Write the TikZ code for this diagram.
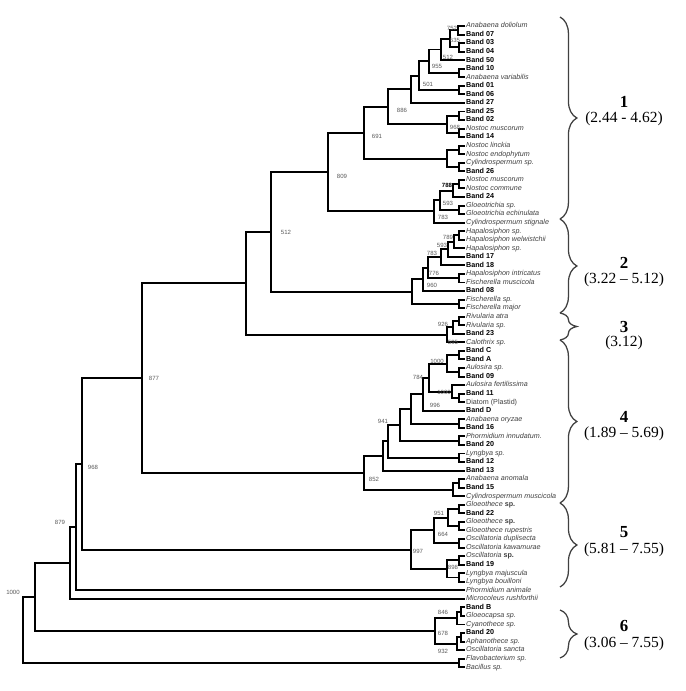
\documentclass[tikz,border=0pt]{standalone}
\usepackage{fontspec}
\setmainfont{Liberation Serif}
\newfontfamily\treefont{Liberation Sans}
\usetikzlibrary{decorations.pathreplacing}
\definecolor{taxgray}{gray}{0.25}
\definecolor{bootgray}{gray}{0.35}
\newcommand{\leafsize}{\treefont\fontsize{5.1}{6}\selectfont}
\newcommand{\bootsize}{\treefont\fontsize{4.3}{5}\selectfont}

\begin{document}
\begin{tikzpicture}[x=0.025cm, y=-0.025cm,
    branch/.style={line width=1.4pt, line join=miter},
    leaf/.style={anchor=west, inner sep=0.6pt, text height=3.6pt, text depth=1pt, font=\leafsize},
    band/.style={leaf, font=\leafsize\bfseries},
    taxon/.style={leaf, text=taxgray, font=\leafsize\itshape},
    uptaxon/.style={leaf, text=taxgray},
    boot/.style={inner sep=0pt, text=bootgray, font=\bootsize},
    bootbold/.style={boot, text=black, font=\bootsize\bfseries},
    bracket/.style={decorate, decoration={brace, amplitude=12pt}, line width=0.9pt, draw=black!75},
    clusterno/.style={font=\fontsize{12}{14}\selectfont\bfseries},
    clusterval/.style={font=\fontsize{11}{13}\selectfont}]

    \useasboundingbox (0,0) rectangle (685,691);

    % --- Leaves, from top to bottom ---
    \node[taxon] (l01) at (465, 26.00) {Anabaena doliolum};
    \node[band] (l02) at (465, 34.55) {Band 07};
    \node[band] (l03) at (465, 43.10) {Band 03};
    \node[band] (l04) at (465, 51.65) {Band 04};
    \node[band] (l05) at (465, 60.20) {Band 50};
    \node[band] (l06) at (465, 68.75) {Band 10};
    \node[taxon] (l07) at (465, 77.30) {Anabaena variabilis};
    \node[band] (l08) at (465, 85.85) {Band 01};
    \node[band] (l09) at (465, 94.40) {Band 06};
    \node[band] (l10) at (465, 102.95) {Band 27};
    \node[band] (l11) at (465, 111.50) {Band 25};
    \node[band] (l12) at (465, 120.05) {Band 02};
    \node[taxon] (l13) at (465, 128.60) {Nostoc muscorum};
    \node[band] (l14) at (465, 137.15) {Band 14};
    \node[taxon] (l15) at (465, 145.70) {Nostoc linckia};
    \node[taxon] (l16) at (465, 154.25) {Nostoc endophytum};
    \node[taxon] (l17) at (465, 162.80) {Cylindrospermum sp.};
    \node[band] (l18) at (465, 171.35) {Band 26};
    \node[taxon] (l19) at (465, 179.90) {Nostoc muscorum};
    \node[taxon] (l20) at (465, 188.45) {Nostoc commune};
    \node[band] (l21) at (465, 197.00) {Band 24};
    \node[taxon] (l22) at (465, 205.55) {Gloeotrichia sp.};
    \node[taxon] (l23) at (465, 214.10) {Gloeotrichia echinulata};
    \node[taxon] (l24) at (465, 222.65) {Cylindrospermum stignale};
    \node[taxon] (l25) at (465, 231.20) {Hapalosiphon sp.};
    \node[taxon] (l26) at (465, 239.75) {Hapalosiphon welwistchii};
    \node[taxon] (l27) at (465, 248.30) {Hapalosiphon sp.};
    \node[band] (l28) at (465, 256.85) {Band 17};
    \node[band] (l29) at (465, 265.40) {Band 18};
    \node[taxon] (l30) at (465, 273.95) {Hapalosiphon intricatus};
    \node[taxon] (l31) at (465, 282.50) {Fischerella muscicola};
    \node[band] (l32) at (465, 291.05) {Band 08};
    \node[taxon] (l33) at (465, 299.60) {Fischerella sp.};
    \node[taxon] (l34) at (465, 308.15) {Fischerella major};
    \node[taxon] (l35) at (465, 316.70) {Rivularia atra};
    \node[taxon] (l36) at (465, 325.25) {Rivularia sp.};
    \node[band] (l37) at (465, 333.80) {Band 23};
    \node[taxon] (l38) at (465, 342.35) {Calothrix sp.};
    \node[band] (l39) at (465, 350.90) {Band C};
    \node[band] (l40) at (465, 359.45) {Band A};
    \node[taxon] (l41) at (465, 368.00) {Aulosira sp.};
    \node[band] (l42) at (465, 376.55) {Band 09};
    \node[taxon] (l43) at (465, 385.10) {Aulosira fertilissima};
    \node[band] (l44) at (465, 393.65) {Band 11};
    \node[uptaxon] (l45) at (465, 402.20) {Diatom (Plastid)};
    \node[band] (l46) at (465, 410.75) {Band D};
    \node[taxon] (l47) at (465, 419.30) {Anabaena oryzae};
    \node[band] (l48) at (465, 427.85) {Band 16};
    \node[taxon] (l49) at (465, 436.40) {Phormidium innudatum.};
    \node[band] (l50) at (465, 444.95) {Band 20};
    \node[taxon] (l51) at (465, 453.50) {Lyngbya sp.};
    \node[band] (l52) at (465, 462.05) {Band 12};
    \node[band] (l53) at (465, 470.60) {Band 13};
    \node[taxon] (l54) at (465, 479.15) {Anabaena anomala};
    \node[band] (l55) at (465, 487.70) {Band 15};
    \node[taxon] (l56) at (465, 496.25) {Cylindrospermum muscicola};
    \node[taxon] (l57) at (465, 504.80) {Gloeothece {\upshape\bfseries sp.}};
    \node[band] (l58) at (465, 513.35) {Band 22};
    \node[taxon] (l59) at (465, 521.90) {Gloeothece {\upshape\bfseries sp.}};
    \node[taxon] (l60) at (465, 530.45) {Gloeothece rupestris};
    \node[taxon] (l61) at (465, 539.00) {Oscillatoria duplisecta};
    \node[taxon] (l62) at (465, 547.55) {Oscillatoria kawamurae};
    \node[taxon] (l63) at (465, 556.10) {Oscillatoria {\upshape\bfseries sp.}};
    \node[band] (l64) at (465, 564.65) {Band 19};
    \node[taxon] (l65) at (465, 573.20) {Lyngbya majuscula};
    \node[taxon] (l66) at (465, 581.75) {Lyngbya bouilloni};
    \node[taxon] (l67) at (465, 590.30) {Phormidium animale};
    \node[taxon] (l68) at (465, 598.85) {Microcoleus rushforthii};
    \node[band] (l69) at (465, 607.40) {Band B};
    \node[taxon] (l70) at (465, 615.95) {Gloeocapsa sp.};
    \node[taxon] (l71) at (465, 624.50) {Cyanothece sp.};
    \node[band] (l72) at (465, 633.05) {Band 20};
    \node[taxon] (l73) at (465, 641.60) {Aphanothece sp.};
    \node[taxon] (l74) at (465, 650.15) {Oscillatoria sancta};
    \node[taxon] (l75) at (465, 658.70) {Flavobacterium sp.};
    \node[taxon] (l76) at (465, 667.25) {Bacillus sp.};

    % --- Cluster 1 ---
    \coordinate (a1) at (458, 30.28);
    \coordinate (a2) at (459, 47.38);
    \coordinate (a3) at (450, 38.83);
    \coordinate (a4) at (441, 49.51);
    \coordinate (a5) at (459, 73.03);
    \coordinate (a6) at (429, 61.27);
    \coordinate (a7) at (459, 90.13);
    \coordinate (a8) at (419, 75.70);
    \coordinate (a9) at (411, 89.33);
    \coordinate (a10) at (459, 115.78);
    \coordinate (a11) at (459, 132.88);
    \coordinate (a12) at (447, 124.33);
    \coordinate (a13) at (388, 106.83);
    \coordinate (a14) at (459, 149.98);
    \coordinate (a15) at (459, 167.08);
    \coordinate (a16) at (447, 158.53);
    \coordinate (a17) at (364, 132.68);
    \coordinate (a18) at (459, 184.18);
    \coordinate (a19) at (453, 190.59);
    \coordinate (a20) at (459, 209.83);
    \coordinate (a21) at (440, 200.21);
    \coordinate (a22) at (434, 211.43);
    \coordinate (a23) at (328, 172.06);
    \draw[branch] (l01.west) -| (a1) |- (l02.west);
    \draw[branch] (l03.west) -| (a2) |- (l04.west);
    \draw[branch] (a1) -| (a3) |- (a2);
    \draw[branch] (a3) -| (a4) |- (l05.west);
    \draw[branch] (l06.west) -| (a5) |- (l07.west);
    \draw[branch] (a4) -| (a6) |- (a5);
    \draw[branch] (l08.west) -| (a7) |- (l09.west);
    \draw[branch] (a6) -| (a8) |- (a7);
    \draw[branch] (a8) -| (a9) |- (l10.west);
    \draw[branch] (l11.west) -| (a10) |- (l12.west);
    \draw[branch] (l13.west) -| (a11) |- (l14.west);
    \draw[branch] (a10) -| (a12) |- (a11);
    \draw[branch] (a9) -| (a13) |- (a12);
    \draw[branch] (l15.west) -| (a14) |- (l16.west);
    \draw[branch] (l17.west) -| (a15) |- (l18.west);
    \draw[branch] (a14) -| (a16) |- (a15);
    \draw[branch] (a13) -| (a17) |- (a16);
    \draw[branch] (l19.west) -| (a18) |- (l20.west);
    \draw[branch] (a18) -| (a19) |- (l21.west);
    \draw[branch] (l22.west) -| (a20) |- (l23.west);
    \draw[branch] (a19) -| (a21) |- (a20);
    \draw[branch] (a21) -| (a22) |- (l24.west);
    \draw[branch] (a17) -| (a23) |- (a22);

    % --- Cluster 2 ---
    \coordinate (b1) at (459, 235.48);
    \coordinate (b2) at (454, 241.89);
    \coordinate (b3) at (448, 249.37);
    \coordinate (b4) at (441, 257.39);
    \coordinate (b5) at (459, 278.23);
    \coordinate (b6) at (428, 267.81);
    \coordinate (b7) at (423, 279.43);
    \coordinate (b8) at (459, 303.88);
    \coordinate (b9) at (412, 291.66);
    \draw[branch] (l25.west) -| (b1) |- (l26.west);
    \draw[branch] (b1) -| (b2) |- (l27.west);
    \draw[branch] (b2) -| (b3) |- (l28.west);
    \draw[branch] (b3) -| (b4) |- (l29.west);
    \draw[branch] (l30.west) -| (b5) |- (l31.west);
    \draw[branch] (b4) -| (b6) |- (b5);
    \draw[branch] (b6) -| (b7) |- (l32.west);
    \draw[branch] (l33.west) -| (b8) |- (l34.west);
    \draw[branch] (b7) -| (b9) |- (b8);

    % --- Cluster 3 ---
    \coordinate (c1) at (459, 320.98);
    \coordinate (c2) at (453, 327.39);
    \coordinate (c3) at (447, 334.87);
    \draw[branch] (l35.west) -| (c1) |- (l36.west);
    \draw[branch] (c1) -| (c2) |- (l37.west);
    \draw[branch] (c2) -| (c3) |- (l38.west);

    % --- Cluster 4 ---
    \coordinate (d1) at (459, 355.18);
    \coordinate (d2) at (459, 372.28);
    \coordinate (d3) at (447, 363.73);
    \coordinate (d4) at (459, 397.93);
    \coordinate (d5) at (452, 391.51);
    \coordinate (d6) at (429, 377.62);
    \coordinate (d7) at (423, 394.19);
    \coordinate (d8) at (459, 423.58);
    \coordinate (d9) at (411, 408.88);
    \coordinate (d10) at (459, 440.68);
    \coordinate (d11) at (400, 424.78);
    \coordinate (d12) at (459, 457.78);
    \coordinate (d13) at (388, 441.28);
    \coordinate (d14) at (383, 455.94);
    \coordinate (d15) at (459, 483.43);
    \coordinate (d16) at (453, 489.84);
    \coordinate (d17) at (364, 472.89);
    \draw[branch] (l39.west) -| (d1) |- (l40.west);
    \draw[branch] (l41.west) -| (d2) |- (l42.west);
    \draw[branch] (d1) -| (d3) |- (d2);
    \draw[branch] (l44.west) -| (d4) |- (l45.west);
    \draw[branch] (l43.west) -| (d5) |- (d4);
    \draw[branch] (d3) -| (d6) |- (d5);
    \draw[branch] (d6) -| (d7) |- (l46.west);
    \draw[branch] (l47.west) -| (d8) |- (l48.west);
    \draw[branch] (d7) -| (d9) |- (d8);
    \draw[branch] (l49.west) -| (d10) |- (l50.west);
    \draw[branch] (d9) -| (d11) |- (d10);
    \draw[branch] (l51.west) -| (d12) |- (l52.west);
    \draw[branch] (d11) -| (d13) |- (d12);
    \draw[branch] (d13) -| (d14) |- (l53.west);
    \draw[branch] (l54.west) -| (d15) |- (l55.west);
    \draw[branch] (d15) -| (d16) |- (l56.west);
    \draw[branch] (d14) -| (d17) |- (d16);

    % --- Cluster 5 ---
    \coordinate (e1) at (459, 509.08);
    \coordinate (e2) at (459, 526.18);
    \coordinate (e3) at (448, 517.63);
    \coordinate (e4) at (459, 543.28);
    \coordinate (e5) at (434, 530.46);
    \coordinate (e6) at (459, 560.38);
    \coordinate (e7) at (459, 577.48);
    \coordinate (e8) at (447, 568.93);
    \coordinate (e9) at (411, 549.70);
    \draw[branch] (l57.west) -| (e1) |- (l58.west);
    \draw[branch] (l59.west) -| (e2) |- (l60.west);
    \draw[branch] (e1) -| (e3) |- (e2);
    \draw[branch] (l61.west) -| (e4) |- (l62.west);
    \draw[branch] (e3) -| (e5) |- (e4);
    \draw[branch] (l63.west) -| (e6) |- (l64.west);
    \draw[branch] (l65.west) -| (e7) |- (l66.west);
    \draw[branch] (e6) -| (e8) |- (e7);
    \draw[branch] (e5) -| (e9) |- (e8);

    % --- Cluster 6 and outgroup ---
    \coordinate (f1) at (461, 611.68);
    \coordinate (f2) at (457, 618.09);
    \coordinate (f3) at (461, 637.33);
    \coordinate (f4) at (457, 643.74);
    \coordinate (f5) at (435, 630.92);
    \coordinate (f6) at (459, 662.98);
    \draw[branch] (l69.west) -| (f1) |- (l70.west);
    \draw[branch] (f1) -| (f2) |- (l71.west);
    \draw[branch] (l72.west) -| (f3) |- (l73.west);
    \draw[branch] (f3) -| (f4) |- (l74.west);
    \draw[branch] (f2) -| (f5) |- (f4);
    \draw[branch] (l75.west) -| (f6) |- (l76.west);

    % --- Backbone joining the clusters ---
    \coordinate (k1) at (271, 231.86);
    \coordinate (k2) at (246, 283.37);
    \coordinate (k3) at (142, 378.13);
    \coordinate (k4) at (82, 463.92);
    \coordinate (k5) at (76, 527.11);
    \coordinate (k6) at (70, 562.98);
    \coordinate (k7) at (35, 596.95);
    \coordinate (k8) at (23, 629.97);
    \draw[branch] (a23) -| (k1) |- (b9);
    \draw[branch] (k1) -| (k2) |- (c3);
    \draw[branch] (k2) -| (k3) |- (d17);
    \draw[branch] (k3) -| (k4) |- (e9);
    \draw[branch] (k4) -| (k5) |- (l67.west);
    \draw[branch] (k5) -| (k6) |- (l68.west);
    \draw[branch] (k6) -| (k7) |- (f5);
    \draw[branch] (k7) -| (k8) |- (f6);

    % --- Bootstrap values ---
    \node[boot] (bs01) at (452, 28) {752};
    \node[boot] (bs02) at (455, 40) {635};
    \node[boot] (bs03) at (448, 57) {512};
    \node[boot] (bs04) at (437, 66) {955};
    \node[boot] (bs05) at (428, 84) {501};
    \node[boot] (bs06) at (402, 110) {886};
    \node[boot] (bs07) at (455, 127) {968};
    \node[boot] (bs08) at (377, 136) {691};
    \node[boot] (bs09) at (342, 176) {809};
    \node[bootbold] (bs10) at (447, 185) {788};
    \node[boot] (bs11) at (448, 203) {593};
    \node[boot] (bs12) at (443, 217) {783};
    \node[boot] (bs13) at (286, 232) {512};
    \node[boot] (bs14) at (448, 237) {789};
    \node[boot] (bs15) at (442, 245) {593};
    \node[boot] (bs16) at (432, 253) {783};
    \node[boot] (bs17) at (434, 273) {776};
    \node[boot] (bs18) at (432, 285) {960};
    \node[boot] (bs19) at (443, 324) {926};
    \node[boot] (bs20) at (453, 342) {595};
    \node[boot] (bs21) at (437, 361) {1000};
    \node[boot] (bs22) at (418, 377) {784};
    \node[boot] (bs23) at (444, 392) {1000};
    \node[boot] (bs24) at (435, 405) {996};
    \node[boot] (bs25) at (383, 421) {941};
    \node[boot] (bs26) at (374, 479) {852};
    \node[boot] (bs27) at (154, 378) {877};
    \node[boot] (bs28) at (93, 467) {968};
    \node[boot] (bs29) at (60, 522) {879};
    \node[boot] (bs30) at (13, 592) {1000};
    \node[boot] (bs31) at (439, 513) {951};
    \node[boot] (bs32) at (443, 534) {664};
    \node[boot] (bs33) at (418, 551) {997};
    \node[boot] (bs34) at (453, 567) {898};
    \node[boot] (bs35) at (443, 612) {846};
    \node[boot] (bs36) at (443, 633) {678};
    \node[boot] (bs37) at (443, 651) {932};

    % --- Braces with cluster numbers on the right ---
    \draw[bracket] (560, 17) -- (560, 219);
    \draw[bracket] (560, 219) -- (560, 313);
    \draw[bracket] (560, 313) -- (560, 340);
    \draw[bracket] (560, 340) -- (560, 503);
    \draw[bracket] (560, 503) -- (560, 587);
    \draw[bracket] (560, 610) -- (560, 658);

    \node[clusterno] (no1) at (624, 102) {1};
    \node[clusterval] (val1) at (624, 119) {(2.44 - 4.62)};
    \node[clusterno] (no2) at (624, 263) {2};
    \node[clusterval] (val2) at (624, 280) {(3.22 – 5.12)};
    \node[clusterno] (no3) at (624, 327) {3};
    \node[clusterval] (val3) at (624, 343) {(3.12)};
    \node[clusterno] (no4) at (624, 417) {4};
    \node[clusterval] (val4) at (624, 434) {(1.89 – 5.69)};
    \node[clusterno] (no5) at (624, 532) {5};
    \node[clusterval] (val5) at (624, 550) {(5.81 – 7.55)};
    \node[clusterno] (no6) at (624, 626) {6};
    \node[clusterval] (val6) at (624, 644) {(3.06 – 7.55)};
\end{tikzpicture}
\end{document}
